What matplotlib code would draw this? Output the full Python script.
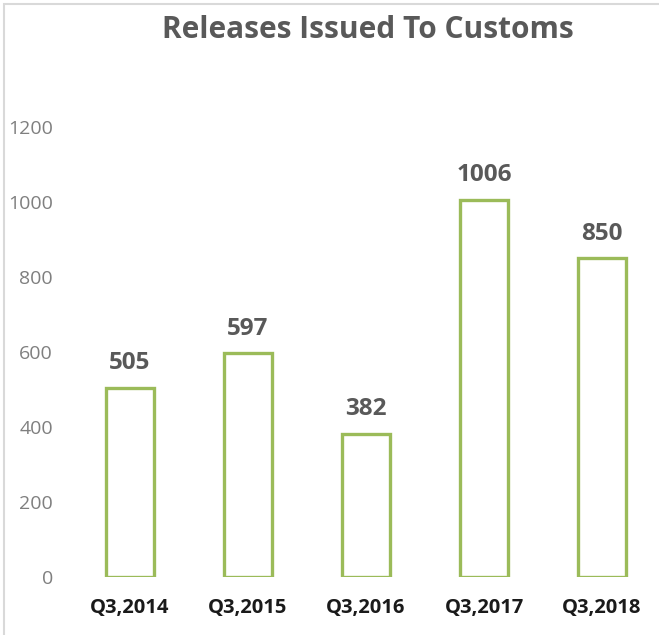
import matplotlib
matplotlib.use("Agg")
import matplotlib.pyplot as plt
from matplotlib.patches import Rectangle

# data
categories = ["Q3,2014", "Q3,2015", "Q3,2016", "Q3,2017", "Q3,2018"]
releases = [505, 597, 382, 1006, 850]
y_ticks = [0, 200, 400, 600, 800, 1000, 1200]

plt.rcParams["font.family"] = ["Open Sans", "DejaVu Sans"]

W, H = 659, 635
fig = plt.figure(figsize=(W / 100, H / 100), dpi=100)
fig.patch.set_facecolor("white")

# chart-area frame (runs off the right and bottom edges)
fig.patches.append(Rectangle((4 / W, -0.05), 1.2, 1 - 4 / H + 0.05,
                             transform=fig.transFigure, fill=False,
                             edgecolor="#d9d9d9", lw=1.5))

# axes placed so that 0 -> y=577px, 1200 -> y=127px
ax = fig.add_axes([71 / W, 1 - 577 / H, 590 / W, 450 / H])
x = range(len(categories))
ax.bar(x, releases, width=0.4, facecolor="white", edgecolor="#9bbb59", linewidth=2.4)

for xi, v in zip(x, releases):
    ax.annotate(str(v), (xi, v), xytext=(0, 9), textcoords="offset points",
                ha="center", va="bottom", fontsize=17.5, fontweight="bold", color="#595959")

ax.set_xlim(-0.5, len(categories) - 0.5)
ax.set_ylim(0, 1200)
ax.set_yticks(y_ticks)
ax.set_yticklabels([str(t) for t in y_ticks], fontsize=14, color="#7f7f7f")
ax.set_xticks(list(x))
ax.set_xticklabels(categories, fontsize=14.5, fontweight="bold", color="#1a1a1a")
ax.tick_params(axis="both", length=0)
ax.tick_params(axis="y", pad=13)
ax.tick_params(axis="x", pad=15)
for s in ax.spines.values():
    s.set_visible(False)

fig.text(368 / W, 1 - 30 / H, "Releases Issued To Customs", ha="center", va="center",
         fontsize=21.5, fontweight="bold", color="#595959")

fig.savefig("out.png", dpi=100)
